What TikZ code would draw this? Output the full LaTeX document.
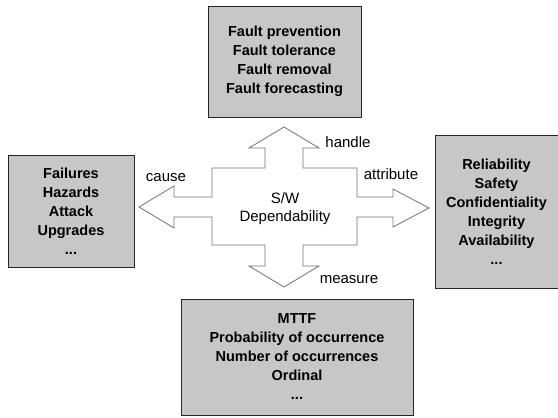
\documentclass[tikz,border=0pt]{standalone}
\usepackage{fontspec}
\setmainfont{Liberation Sans}
\begin{document}
\begin{tikzpicture}[
    x=1pt, y=-1pt,
    group/.style={rectangle, draw=black!85, line width=1pt, fill=black!22, align=center, inner sep=0pt, font=\fontsize{14.5}{19}\selectfont\bfseries},
    tag/.style={inner sep=0pt, font=\fontsize{15}{18}\selectfont},
    cross/.style={draw=black!55, line width=0.8pt, fill=white}
]
\useasboundingbox (0,0) rectangle (558,418);

\draw[cross] (284,127) -- (319,148) -- (303,148) -- (303,168) -- (357,168) -- (357,197)
    -- (393,197) -- (393,189) -- (429,208) -- (393,227) -- (393,217) -- (357,217)
    -- (357,245) -- (303,245) -- (303,266) -- (319,266) -- (284,287) -- (249,266)
    -- (265,266) -- (265,245) -- (212,245) -- (212,217) -- (174,217) -- (174,228)
    -- (139,207) -- (174,186) -- (174,197) -- (212,197) -- (212,168) -- (265,168)
    -- (265,148) -- (249,148) -- cycle;

\node[tag, align=center] (core) at (285,209) {S/W\\Dependability};

\node[group, minimum width=153pt, minimum height=111pt] (handles) at (284.5,61.5) {
    Fault prevention\\
    Fault tolerance\\
    Fault removal\\
    Fault forecasting
};

\node[group, minimum width=126pt, minimum height=112pt] (causes) at (71,211) {
    Failures\\
    Hazards\\
    Attack\\
    Upgrades\\
    ...
};

\node[group, minimum width=123pt, minimum height=153pt] (attributes) at (496.5,211.5) {
    Reliability\\
    Safety\\
    Confidentiality\\
    Integrity\\
    Availability\\
    ...
};

\node[group, minimum width=232pt, minimum height=116pt] (measures) at (297,357) {
    MTTF\\
    Probability of occurrence\\
    Number of occurrences\\
    Ordinal\\
    ...
};

\node[tag] (handle) at (348,142) {handle};
\node[tag] (cause) at (166,178) {cause};
\node[tag] (attribute) at (391,174) {attribute};
\node[tag] (measure) at (349,280) {measure};

\end{tikzpicture}
\end{document}
